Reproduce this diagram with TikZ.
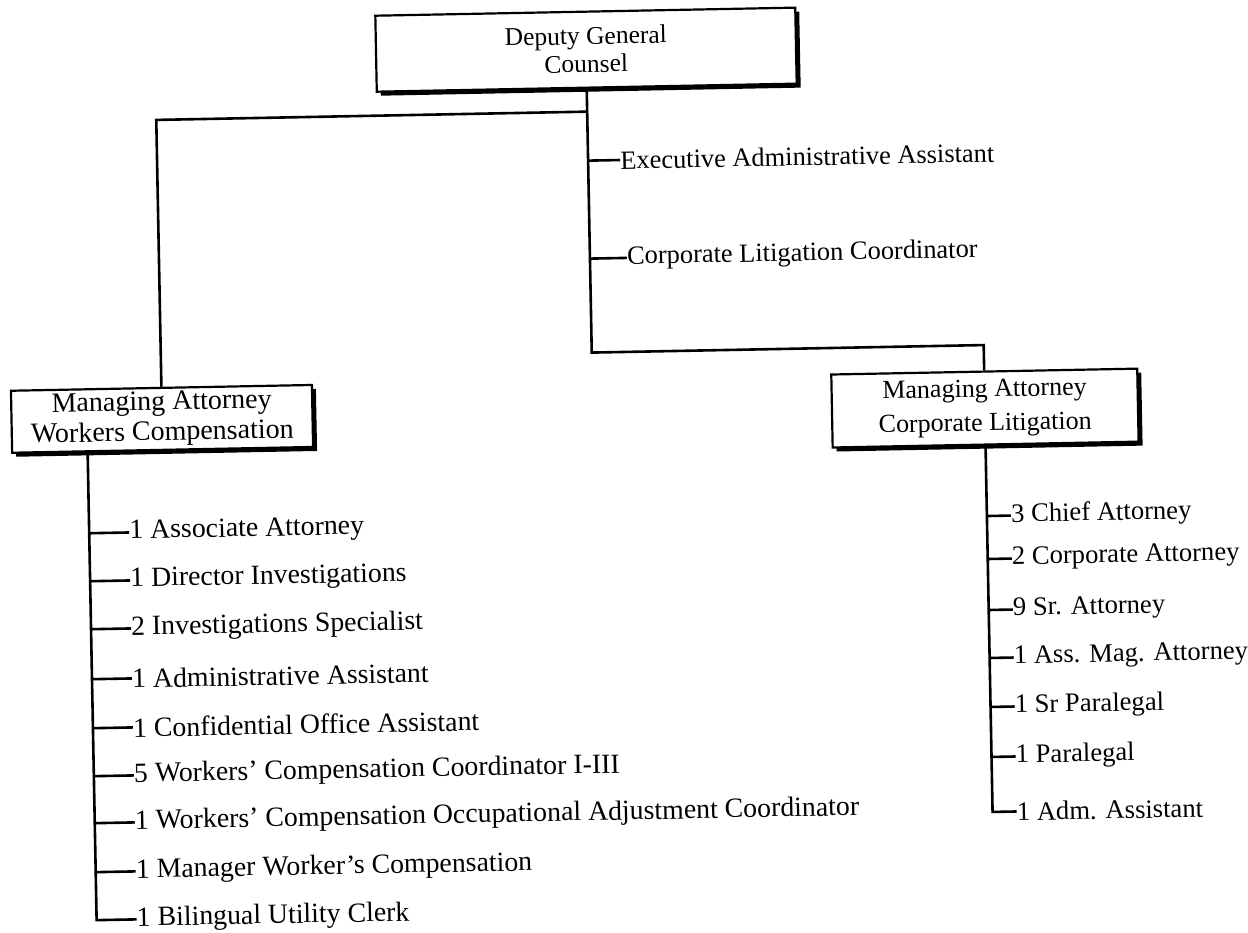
\documentclass[tikz,border=0pt]{standalone}
\usepackage{fontspec}
\setmainfont{Liberation Serif}
\usetikzlibrary{shadows}
\begin{document}
\begin{tikzpicture}[x=1pt,y=-1pt,
  box/.style={draw,line width=2.2pt,fill=white,align=center,inner sep=0pt,
    drop shadow={shadow xshift=4pt,shadow yshift=-4pt,opacity=1,fill=black}},
  item/.style={anchor=west,inner sep=0pt},
  litem/.style={item,font=\fontsize{27.8}{30}\selectfont},
  citem/.style={item,font=\fontsize{26.4}{30}\selectfont},
  ritem/.style={item,font=\fontsize{26.6}{30}\selectfont},
  ln/.style={line width=2.6pt}]
\useasboundingbox (0,0) rectangle (1248,932);
\begin{scope}[rotate around={1.1:(624,466)},transform shape]
% boxes
\node[box,minimum width=420pt,minimum height=76pt,font=\fontsize{25.5}{28}\selectfont] (top) at (594,49) {Deputy General\\Counsel};
\node[box,minimum width=301pt,minimum height=62pt,font=\fontsize{28}{30.5}\selectfont] (lbox) at (163,410) {Managing Attorney\\Workers Compensation};
\node[box,minimum width=306pt,minimum height=73pt,font=\fontsize{26}{34}\selectfont] (rbox) at (986,415) {Managing Attorney\\Corporate Litigation};
% top connectors
\coordinate (tj) at (top.south |- 0,111);
\coordinate (tb) at (top.south |- 0,352);
\draw[ln] (tj) -| (lbox.north);
\draw[ln] (top.south) -- (tb) -| (rbox.north);
\node[citem] (ea) at (626,160) {Executive Administrative Assistant};
\node[citem] (clc) at (631,258) {Corporate Litigation Coordinator};
\draw[ln] (tb |- ea.west) -- (ea.west);
\draw[ln] (tb |- clc.west) -- (clc.west);
% left list
\coordinate (lv) at (88,441);
\node[litem] (l1) at (128,523) {1 Associate Attorney};
\node[litem] (l2) at (128,571) {1 Director Investigations};
\node[litem] (l3) at (128,619) {2 Investigations Specialist};
\node[litem] (l4) at (128,669) {1 Administrative Assistant};
\node[litem] (l5) at (128,718) {1 Confidential Office Assistant};
\node[litem] (l6) at (128,766) {5 Workers' Compensation Coordinator I-III};
\node[litem] (l7) at (128,813) {1 Workers' Compensation Occupational Adjustment Coordinator};
\node[litem] (l8) at (128,862) {1 Manager Worker's Compensation};
\node[litem] (l9) at (128,910) {1 Bilingual Utility Clerk};
\draw[ln] (lv) |- (l9.west);
\foreach \i in {1,...,8} {\draw[ln] (lv |- l\i.west) -- (l\i.west);}
% right list
\coordinate (rv) at (rbox.south);
\node[ritem] (r1) at (1010,523) {3 Chief Attorney};
\node[ritem] (r2) at (1010,566) {2 Corporate Attorney};
\node[ritem] (r3) at (1010,617) {9 Sr. Attorney};
\node[ritem] (r4) at (1010,665) {1 Ass. Mag. Attorney};
\node[ritem] (r5) at (1010,714) {1 Sr Paralegal};
\node[ritem] (r6) at (1010,764) {1 Paralegal};
\node[ritem] (r7) at (1010,819) {1 Adm. Assistant};
\draw[ln] (rv) |- (r7.west);
\foreach \i in {1,...,6} {\draw[ln] (rv |- r\i.west) -- (r\i.west);}
\end{scope}
\end{tikzpicture}
\end{document}
